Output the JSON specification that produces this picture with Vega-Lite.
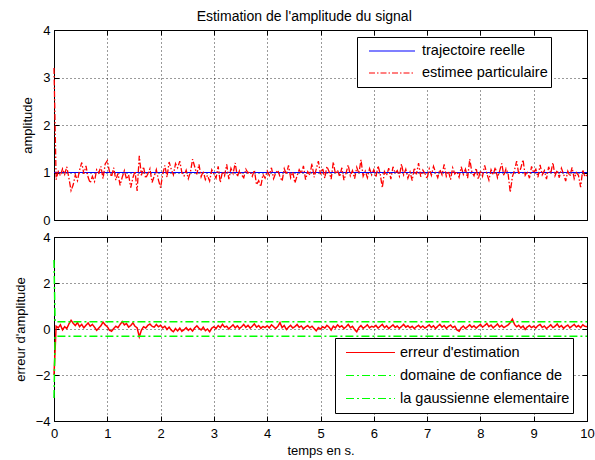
{
"$schema": "https://vega.github.io/schema/vega-lite/v6.json",
"autosize": {"type": "pad"},
"padding": {"left": 13, "top": 9, "right": 1, "bottom": 4},
"background": "white",
"title": {"text": "Estimation de l'amplitude du signal", "font": "Liberation Sans", "fontSize": 14, "fontWeight": "normal", "color": "black", "anchor": "middle", "offset": 0},
"spacing": 2,
"resolve": {"scale": {"color": "independent", "strokeDash": "independent"}, "legend": {"color": "independent", "strokeDash": "independent"}},
"datasets": {
"ref": [{"t": 0, "v": 1}, {"t": 10, "v": 1}],
"bnd": [{"t": 0, "u": 3, "l": -3}, {"t": 0.02, "u": 0.32, "l": -0.32}, {"t": 10, "u": 0.32, "l": -0.32}],
"sig": [
{"t":0,"a":3.2,"e":-2.0},{"t":0.04,"a":0.85,"e":0.12},{"t":0.08,"a":1.02,"e":0.05},{"t":0.12,"a":0.93,"e":0.18},{"t":0.16,"a":1.08,"e":-0.04},{"t":0.2,"a":0.96,"e":0.1},{"t":0.24,"a":1.12,"e":0.02},{"t":0.28,"a":0.88,"e":0.22},{"t":0.32,"a":0.62,"e":0.38},{"t":0.36,"a":0.74,"e":0.25},{"t":0.4,"a":0.95,"e":0.15},{"t":0.44,"a":0.83,"e":0.28},{"t":0.48,"a":1.05,"e":0.1},{"t":0.52,"a":1.21,"e":0.2},{"t":0.56,"a":0.97,"e":0.05},{"t":0.6,"a":1.14,"e":0.16},{"t":0.64,"a":0.9,"e":0.26},{"t":0.68,"a":0.78,"e":0.12},{"t":0.72,"a":0.92,"e":0.2},{"t":0.76,"a":0.81,"e":0.08},{"t":0.8,"a":1.06,"e":-0.06},{"t":0.84,"a":0.99,"e":0.04},{"t":0.88,"a":1.13,"e":0.14},{"t":0.92,"a":0.87,"e":0.3},{"t":0.96,"a":1.18,"e":0.18},
{"t":1,"a":1.25,"e":0.1},{"t":1.04,"a":1.02,"e":-0.05},{"t":1.08,"a":0.91,"e":-0.1},{"t":1.12,"a":1.1,"e":0.02},{"t":1.16,"a":0.84,"e":0.12},{"t":1.2,"a":0.98,"e":0.06},{"t":1.24,"a":0.73,"e":0.2},{"t":1.28,"a":0.9,"e":0.32},{"t":1.32,"a":1.04,"e":0.18},{"t":1.36,"a":0.86,"e":0.24},{"t":1.4,"a":0.95,"e":0.08},{"t":1.44,"a":0.68,"e":0.15},{"t":1.48,"a":0.89,"e":0.27},{"t":1.52,"a":1.03,"e":0.12},{"t":1.56,"a":0.61,"e":0.05},{"t":1.6,"a":1.35,"e":-0.34},{"t":1.64,"a":0.94,"e":-0.05},{"t":1.68,"a":1.12,"e":0.1},{"t":1.72,"a":0.88,"e":0.04},{"t":1.76,"a":0.97,"e":0.16},{"t":1.8,"a":1.08,"e":0.22},{"t":1.84,"a":0.79,"e":0.12},{"t":1.88,"a":0.92,"e":0.08},{"t":1.92,"a":1.06,"e":0.2},{"t":1.96,"a":0.84,"e":0.1},
{"t":2,"a":0.68,"e":0.16},{"t":2.04,"a":0.97,"e":0.05},{"t":2.08,"a":1.15,"e":0.12},{"t":2.12,"a":0.9,"e":-0.02},{"t":2.16,"a":1.22,"e":0.08},{"t":2.2,"a":1.07,"e":-0.05},{"t":2.24,"a":0.95,"e":-0.12},{"t":2.28,"a":1.19,"e":0.02},{"t":2.32,"a":1.1,"e":-0.08},{"t":2.36,"a":1.24,"e":0.04},{"t":2.4,"a":0.99,"e":-0.1},{"t":2.44,"a":0.93,"e":-0.03},{"t":2.48,"a":1.05,"e":0.06},{"t":2.52,"a":0.87,"e":-0.06},{"t":2.56,"a":1.01,"e":0.02},{"t":2.6,"a":1.28,"e":-0.09},{"t":2.64,"a":1.12,"e":0.05},{"t":2.68,"a":0.96,"e":0.14},{"t":2.72,"a":1.17,"e":0.03},{"t":2.76,"a":0.91,"e":-0.04},{"t":2.8,"a":1.03,"e":0.08},{"t":2.84,"a":0.85,"e":-0.07},{"t":2.88,"a":0.94,"e":0.0},{"t":2.92,"a":0.82,"e":-0.12},{"t":2.96,"a":1.06,"e":0.04},
{"t":3,"a":0.97,"e":0.1},{"t":3.04,"a":0.88,"e":0.02},{"t":3.08,"a":1.13,"e":0.15},{"t":3.12,"a":0.79,"e":0.06},{"t":3.16,"a":1.02,"e":0.2},{"t":3.2,"a":0.93,"e":0.08},{"t":3.24,"a":1.17,"e":0.12},{"t":3.28,"a":0.86,"e":0.0},{"t":3.32,"a":1.09,"e":0.1},{"t":3.36,"a":0.98,"e":0.18},{"t":3.4,"a":1.2,"e":0.05},{"t":3.44,"a":0.91,"e":0.14},{"t":3.48,"a":1.04,"e":0.02},{"t":3.52,"a":0.95,"e":0.1},{"t":3.56,"a":0.89,"e":0.2},{"t":3.6,"a":1.07,"e":0.07},{"t":3.64,"a":0.99,"e":0.16},{"t":3.68,"a":1.02,"e":0.04},{"t":3.72,"a":0.92,"e":0.12},{"t":3.76,"a":1.05,"e":0.22},{"t":3.8,"a":0.74,"e":0.08},{"t":3.84,"a":0.83,"e":0.15},{"t":3.88,"a":0.7,"e":0.03},{"t":3.92,"a":0.96,"e":0.11},{"t":3.96,"a":0.88,"e":0.06},
{"t":4,"a":1.03,"e":0.14},{"t":4.04,"a":0.94,"e":0.05},{"t":4.08,"a":1.1,"e":0.18},{"t":4.12,"a":0.87,"e":0.1},{"t":4.16,"a":0.99,"e":0.02},{"t":4.2,"a":1.05,"e":0.12},{"t":4.24,"a":0.91,"e":0.28},{"t":4.28,"a":0.82,"e":0.06},{"t":4.32,"a":1.08,"e":0.15},{"t":4.36,"a":0.96,"e":-0.02},{"t":4.4,"a":1.15,"e":0.08},{"t":4.44,"a":0.89,"e":0.16},{"t":4.48,"a":1.01,"e":0.04},{"t":4.52,"a":0.78,"e":0.1},{"t":4.56,"a":0.93,"e":0.2},{"t":4.6,"a":1.06,"e":0.07},{"t":4.64,"a":0.98,"e":0.13},{"t":4.68,"a":1.14,"e":0.01},{"t":4.72,"a":0.85,"e":0.09},{"t":4.76,"a":1.02,"e":0.15},{"t":4.8,"a":0.95,"e":0.05},{"t":4.84,"a":1.19,"e":0.12},{"t":4.88,"a":0.9,"e":0.02},{"t":4.92,"a":1.07,"e":-0.08},{"t":4.96,"a":1.24,"e":0.06},
{"t":5,"a":0.96,"e":0.0},{"t":5.04,"a":1.09,"e":0.1},{"t":5.08,"a":0.88,"e":0.04},{"t":5.12,"a":1.13,"e":0.16},{"t":5.16,"a":1.02,"e":0.08},{"t":5.2,"a":0.86,"e":-0.05},{"t":5.24,"a":1.22,"e":0.12},{"t":5.28,"a":0.97,"e":0.05},{"t":5.32,"a":1.05,"e":0.18},{"t":5.36,"a":0.91,"e":0.08},{"t":5.4,"a":1.1,"e":0.14},{"t":5.44,"a":0.84,"e":0.02},{"t":5.48,"a":0.99,"e":0.1},{"t":5.52,"a":1.16,"e":0.2},{"t":5.56,"a":0.93,"e":0.06},{"t":5.6,"a":1.04,"e":0.12},{"t":5.64,"a":0.87,"e":-0.02},{"t":5.68,"a":1.11,"e":-0.12},{"t":5.72,"a":0.98,"e":0.06},{"t":5.76,"a":1.27,"e":0.15},{"t":5.8,"a":0.92,"e":0.03},{"t":5.84,"a":1.03,"e":0.1},{"t":5.88,"a":0.89,"e":0.18},{"t":5.92,"a":1.08,"e":0.05},{"t":5.96,"a":0.95,"e":0.12},
{"t":6,"a":1.06,"e":0.08},{"t":6.04,"a":0.9,"e":0.16},{"t":6.08,"a":1.14,"e":0.04},{"t":6.12,"a":0.97,"e":0.12},{"t":6.16,"a":0.68,"e":0.2},{"t":6.2,"a":1.02,"e":0.06},{"t":6.24,"a":0.94,"e":0.14},{"t":6.28,"a":1.09,"e":0.02},{"t":6.32,"a":0.86,"e":0.1},{"t":6.36,"a":1.12,"e":0.18},{"t":6.4,"a":0.99,"e":0.07},{"t":6.44,"a":1.04,"e":0.13},{"t":6.48,"a":0.92,"e":0.03},{"t":6.52,"a":1.18,"e":0.11},{"t":6.56,"a":0.95,"e":0.2},{"t":6.6,"a":1.07,"e":0.08},{"t":6.64,"a":0.88,"e":0.14},{"t":6.68,"a":1.01,"e":0.05},{"t":6.72,"a":0.83,"e":0.12},{"t":6.76,"a":1.1,"e":0.02},{"t":6.8,"a":0.96,"e":0.1},{"t":6.84,"a":1.2,"e":0.16},{"t":6.88,"a":0.91,"e":0.06},{"t":6.92,"a":1.05,"e":0.13},{"t":6.96,"a":0.98,"e":0.04},
{"t":7,"a":0.87,"e":0.1},{"t":7.04,"a":1.08,"e":0.18},{"t":7.08,"a":0.94,"e":0.07},{"t":7.12,"a":1.13,"e":0.14},{"t":7.16,"a":1.0,"e":0.02},{"t":7.2,"a":0.89,"e":0.12},{"t":7.24,"a":1.06,"e":0.2},{"t":7.28,"a":0.95,"e":0.08},{"t":7.32,"a":1.17,"e":0.15},{"t":7.36,"a":0.92,"e":0.03},{"t":7.4,"a":1.03,"e":0.11},{"t":7.44,"a":0.85,"e":0.17},{"t":7.48,"a":1.1,"e":0.06},{"t":7.52,"a":0.97,"e":0.12},{"t":7.56,"a":1.02,"e":-0.04},{"t":7.6,"a":0.9,"e":-0.1},{"t":7.64,"a":1.12,"e":0.05},{"t":7.68,"a":0.96,"e":0.13},{"t":7.72,"a":1.07,"e":0.02},{"t":7.76,"a":0.88,"e":0.1},{"t":7.8,"a":1.28,"e":0.18},{"t":7.84,"a":1.01,"e":0.07},{"t":7.88,"a":0.93,"e":0.14},{"t":7.92,"a":1.09,"e":0.04},{"t":7.96,"a":0.86,"e":0.12},
{"t":8,"a":1.04,"e":0.2},{"t":8.04,"a":0.92,"e":0.08},{"t":8.08,"a":1.15,"e":0.15},{"t":8.12,"a":0.98,"e":0.24},{"t":8.16,"a":0.84,"e":0.1},{"t":8.2,"a":1.06,"e":0.17},{"t":8.24,"a":0.95,"e":0.05},{"t":8.28,"a":1.11,"e":0.13},{"t":8.32,"a":0.89,"e":0.22},{"t":8.36,"a":1.03,"e":0.09},{"t":8.4,"a":1.19,"e":0.16},{"t":8.44,"a":0.93,"e":0.06},{"t":8.48,"a":1.08,"e":0.12},{"t":8.52,"a":0.97,"e":0.18},{"t":8.56,"a":0.58,"e":0.28},{"t":8.6,"a":0.91,"e":0.43},{"t":8.64,"a":1.05,"e":0.2},{"t":8.68,"a":1.24,"e":0.1},{"t":8.72,"a":0.96,"e":0.16},{"t":8.76,"a":1.1,"e":0.05},{"t":8.8,"a":1.27,"e":0.13},{"t":8.84,"a":0.94,"e":-0.02},{"t":8.88,"a":1.02,"e":0.09},{"t":8.92,"a":0.88,"e":0.15},{"t":8.96,"a":1.13,"e":0.06},
{"t":9,"a":0.99,"e":0.12},{"t":9.04,"a":1.07,"e":0.04},{"t":9.08,"a":0.9,"e":0.14},{"t":9.12,"a":1.16,"e":0.2},{"t":9.16,"a":0.95,"e":0.07},{"t":9.2,"a":1.04,"e":0.13},{"t":9.24,"a":0.86,"e":0.02},{"t":9.28,"a":1.12,"e":0.1},{"t":9.32,"a":0.98,"e":0.18},{"t":9.36,"a":1.21,"e":0.06},{"t":9.4,"a":0.93,"e":0.12},{"t":9.44,"a":1.05,"e":0.22},{"t":9.48,"a":0.89,"e":0.08},{"t":9.52,"a":1.09,"e":0.15},{"t":9.56,"a":0.97,"e":0.03},{"t":9.6,"a":0.82,"e":0.11},{"t":9.64,"a":1.03,"e":0.17},{"t":9.68,"a":0.92,"e":0.05},{"t":9.72,"a":1.11,"e":0.13},{"t":9.76,"a":0.87,"e":0.2},{"t":9.8,"a":1.0,"e":0.09},{"t":9.84,"a":0.94,"e":0.15},{"t":9.88,"a":0.69,"e":0.06},{"t":9.92,"a":1.06,"e":0.18},{"t":9.96,"a":0.91,"e":0.12},{"t":10,"a":0.95,"e":0.1}
]
},
"vconcat": [
{
"width": 533, "height": 190,
"layer": [
{
"data": {"name": "ref"},
"mark": {"type": "line", "strokeWidth": 1},
"encoding": {
"x": {"field": "t", "type": "quantitative", "scale": {"domain": [0, 10], "nice": false}, "axis": {"values": [0,1,2,3,4,5,6,7,8,9,10], "labels": false, "title": null}},
"y": {"field": "v", "type": "quantitative", "scale": {"domain": [0, 4], "nice": false}, "axis": {"values": [0,1,2,3,4], "title": "amplitude"}},
"color": {"datum": "trajectoire reelle", "type": "nominal", "scale": {"domain": ["trajectoire reelle", "estimee particulaire"], "range": ["#0000ff", "#ff0000"]},
  "legend": {"orient": "none", "legendX": 303, "legendY": 7, "title": null, "clipHeight": 22, "symbolSize": 2116, "symbolOffset": 8, "labelOffset": 6}},
"strokeDash": {"datum": "trajectoire reelle", "type": "nominal", "scale": {"domain": ["trajectoire reelle", "estimee particulaire"], "range": [[1, 0], [6, 2, 1.5, 2]]},
  "legend": {"orient": "none", "legendX": 303, "legendY": 7, "title": null, "clipHeight": 22, "symbolSize": 2116, "symbolOffset": 8, "labelOffset": 6}}
}
},
{
"data": {"name": "sig"},
"mark": {"type": "line", "strokeWidth": 1.3},
"encoding": {
"x": {"field": "t", "type": "quantitative", "axis": null},
"y": {"field": "a", "type": "quantitative", "axis": null},
"color": {"datum": "estimee particulaire", "type": "nominal"},
"strokeDash": {"datum": "estimee particulaire", "type": "nominal"}
}
},
{
"data": {"name": "ref"},
"mark": {"type": "line", "strokeOpacity": 0},
"encoding": {
"x": {"field": "t", "type": "quantitative", "axis": {"orient": "top", "values": [0,1,2,3,4,5,6,7,8,9,10], "labels": false, "grid": false, "title": null}},
"y": {"field": "v", "type": "quantitative", "axis": {"orient": "right", "values": [0,1,2,3,4], "labels": false, "grid": false, "title": null}}
}
}
],
"resolve": {"axis": {"x": "independent", "y": "independent"}}
},
{
"width": 533, "height": 184,
"layer": [
{
"data": {"name": "sig"},
"mark": {"type": "line", "strokeWidth": 1.5},
"encoding": {
"x": {"field": "t", "type": "quantitative", "scale": {"domain": [0, 10], "nice": false}, "axis": {"values": [0,1,2,3,4,5,6,7,8,9,10], "title": "temps en s."}},
"y": {"field": "e", "type": "quantitative", "scale": {"domain": [-4, 4], "nice": false}, "axis": {"values": [-4,-2,0,2,4], "title": "erreur d'amplitude"}},
"color": {"datum": "erreur d'estimation", "type": "nominal", "scale": {"domain": ["erreur d'estimation", "domaine de confiance de", "la gaussienne elementaire"], "range": ["#ff0000", "#00ff00", "#00ff00"]},
  "legend": {"orient": "none", "legendX": 281, "legendY": 101, "title": null, "clipHeight": 23, "symbolSize": 2401, "symbolOffset": 7, "labelOffset": 4}},
"strokeDash": {"datum": "erreur d'estimation", "type": "nominal", "scale": {"domain": ["erreur d'estimation", "domaine de confiance de", "la gaussienne elementaire"], "range": [[1, 0], [8, 3, 2, 3], [8, 3, 2, 3]]},
  "legend": {"orient": "none", "legendX": 281, "legendY": 101, "title": null, "clipHeight": 23, "symbolSize": 2401, "symbolOffset": 7, "labelOffset": 4}}
}
},
{
"data": {"name": "bnd"},
"mark": {"type": "line", "strokeWidth": 1.5},
"encoding": {
"x": {"field": "t", "type": "quantitative", "axis": null},
"y": {"field": "u", "type": "quantitative", "axis": null},
"color": {"datum": "domaine de confiance de", "type": "nominal"},
"strokeDash": {"datum": "domaine de confiance de", "type": "nominal"}
}
},
{
"data": {"name": "bnd"},
"mark": {"type": "line", "strokeWidth": 1.5},
"encoding": {
"x": {"field": "t", "type": "quantitative", "axis": null},
"y": {"field": "l", "type": "quantitative", "axis": null},
"color": {"datum": "la gaussienne elementaire", "type": "nominal"},
"strokeDash": {"datum": "la gaussienne elementaire", "type": "nominal"}
}
},
{
"data": {"name": "ref"},
"mark": {"type": "line", "strokeOpacity": 0},
"encoding": {
"x": {"field": "t", "type": "quantitative", "axis": {"orient": "top", "values": [0,1,2,3,4,5,6,7,8,9,10], "labels": false, "grid": false, "title": null}},
"y": {"field": "v", "type": "quantitative", "axis": {"orient": "right", "values": [-4,-2,0,2,4], "labels": false, "grid": false, "title": null}}
}
}
],
"resolve": {"axis": {"x": "independent", "y": "independent"}}
}
],
"config": {
"view": {"stroke": "black", "strokeWidth": 1},
"font": "Liberation Sans",
"axis": {
"domain": false,
"tickColor": "black", "tickSize": -5, "tickWidth": 1,
"grid": true, "gridColor": "black", "gridDash": [1, 3], "gridOpacity": 1, "gridWidth": 0.8,
"labelFont": "Liberation Sans", "labelFontSize": 13, "labelColor": "black", "labelPadding": 9,
"titleFont": "Liberation Sans", "titleFontSize": 13, "titleFontWeight": "normal", "titleColor": "black", "titlePadding": 8
},
"axisX": {"labelPadding": 11, "titlePadding": 4, "labelFlush": false},
"legend": {
"strokeColor": "black", "fillColor": "white", "padding": 3,
"symbolType": "stroke", "symbolStrokeWidth": 1.2,
"labelFont": "Liberation Sans", "labelFontSize": 14.5, "labelColor": "black",
"rowPadding": 0, "labelLimit": 300
}
}
}
